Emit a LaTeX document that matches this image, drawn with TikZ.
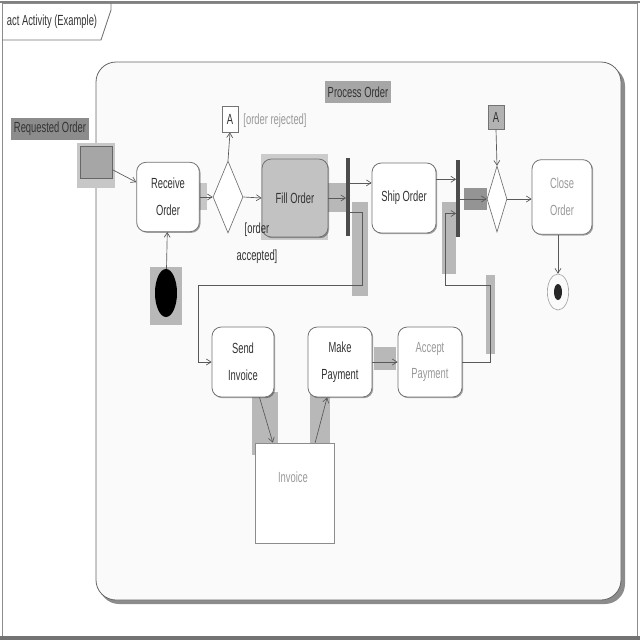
\documentclass[tikz,border=0pt]{standalone}
\usepackage{fontspec}
\setmainfont{Liberation Sans}
\newfontfamily\umlfont[FakeStretch=0.64]{Liberation Sans}
\usetikzlibrary{arrows.meta,shapes.geometric,shadows,calc}

\begin{document}
\begin{tikzpicture}[x=0.75pt,y=-0.75pt,
  every node/.style={font=\umlfont\fontsize{11}{20}\selectfont, text=black!80},
  line/.style={draw=black!65, line width=0.5pt},
  flow/.style={line, -{Straight Barb[length=3.5pt,width=4.5pt]}},
  action/.style={draw=black!55, fill=white, rounded corners=7pt, line width=0.6pt,
    align=center, inner sep=1pt,
    drop shadow={shadow xshift=0.9pt, shadow yshift=-0.9pt, opacity=0.35, fill=black}},
  bar/.style={fill=black!70, draw=none, inner sep=0, minimum width=2.4pt},
  decision/.style={diamond, draw=black!55, fill=white, inner sep=0, line width=0.5pt},
  conn/.style={draw=black!55, fill=white, inner sep=0, line width=0.6pt},
  hl/.style={fill=black!28, draw=none},
  faint/.style={text=black!40},
]
\useasboundingbox (0,0) rectangle (640,640);

% diagram frame and its name tag
\draw[black!45, line width=0.6pt] (2,3) rectangle (637,637);
\draw[black!50, line width=2pt] (0,2) -- (640,2);
\draw[black!55, line width=2.6pt] (0,638) -- (640,638);
\draw[black!55, line width=0.7pt] (2,40) -- (101,40) -- (111,10) -- (111,3);
\node (tag) at (52,22) {act Activity (Example)};

% activity container with its shadow
\fill[black!45, rounded corners=15pt] (99,66) rectangle (625,604);
\draw[black!60, fill=black!2, line width=0.6pt, rounded corners=15pt] (96,62) rectangle (621,600);
\node[fill=black!35, inner sep=2pt, minimum width=50pt, minimum height=17pt] (pname) at (358,92) {Process Order};

% shaded selection patches
\fill[black!22] (77,143) rectangle (115,188);
\fill[hl] (150,267) rectangle (182,325);
\fill[hl] (352,202) rectangle (368,296);
\fill[hl] (442,202) rectangle (456,274);
\fill[hl] (486,275) rectangle (495,354);
\fill[black!42] (464,188) rectangle (487,210);
\fill[hl] (374,347) rectangle (396,370);
\fill[hl] (252,392) rectangle (278,455);
\fill[hl] (310,390) rectangle (330,450);
\fill[black!20] (261,154) rectangle (328,240);
\fill[hl] (328,183) rectangle (346,212);
\fill[black!22] (198,183) rectangle (207,210);

% parameter node on the activity border
\node[fill=black!45, inner sep=2pt, minimum width=54pt, minimum height=17pt] (plabel) at (50,129) {Requested Order};
\node[draw=black!60, fill=black!35, line width=0.6pt, minimum width=24pt, minimum height=24pt, inner sep=0] (param) at (96,162) {};

% actions
\node[action, minimum width=47pt, minimum height=52pt] (recv) at (168,197) {Receive\\Order};
\node[action, fill=black!24, minimum width=49.5pt, minimum height=58.5pt] (fill) at (295,198) {Fill Order};
\node[action, minimum width=48pt, minimum height=52.5pt] (ship) at (404,198) {Ship Order};
\node[action, minimum width=45pt, minimum height=56pt, faint] (close) at (562,197) {Close\\Order};
\node[action, minimum width=46.5pt, minimum height=52.5pt] (send) at (243,362) {Send\\Invoice};
\node[action, minimum width=48pt, minimum height=52.5pt] (make) at (340,362) {Make\\Payment};
\node[action, minimum width=48pt, minimum height=52.5pt, faint] (accept) at (430,362) {Accept\\Payment};

% object node
\node[draw=black!45, fill=white, line width=0.5pt, minimum width=59pt, minimum height=75pt, inner sep=0] (inv) at (294.5,493) {};
\node[faint] (invtext) at (293,477) {Invoice};

% control nodes
\node[ellipse, fill=black, minimum width=16.5pt, minimum height=36pt, inner sep=0] (init) at (166,293) {};
\node[decision, minimum width=22.5pt, minimum height=54pt] (d1) at (228,197) {};
\node[decision, minimum width=15pt, minimum height=49.5pt] (d2) at (497,199) {};
\node[bar, minimum height=58.5pt] (fork1) at (348,197) {};
\node[bar, minimum height=58pt] (join2) at (458,198.5) {};
\node[conn, minimum width=12pt, minimum height=19.5pt] (a1) at (230,119) {A};
\node[conn, fill=black!30, minimum width=12pt, minimum height=18pt] (a2) at (496,117) {A};
\node[ellipse, draw=black!35, line width=0.5pt, minimum width=16pt, minimum height=27pt, inner sep=0] (final) at (558,292) {};
\fill[black!85] (final.center) ellipse (3pt and 6pt);

% bend points
\coordinate (bA) at (362,285);
\coordinate (bB) at (198,285);
\coordinate (bC) at (490,285);
\coordinate (bD) at (445,285);

% guards
\node[faint] (grej) at (275,121) {[order rejected]};
\node[align=center] (gacc) at (257,243) {[order\\accepted]};

% flows
\draw[flow] (param.-25) -- (recv.155);
\draw[flow] (init) -- (recv);
\draw[flow] (recv.east) -- (d1.west);
\draw[flow] (d1.east) -- (fill.west);
\draw[flow] (d1.north) -- (a1.south);
\draw[flow] (fill.east) -- (fill.east -| fork1.west);
\draw[flow] (fork1.east |- ship.155) -- (ship.155);
\draw[flow] ($(fork1.east)+(0,15)$) -| (bA) -- (bB) |- (send.west);
\draw[flow] (ship.30) -- (ship.30 -| join2.west);
\draw[flow] (accept.east) -| (bC) -- (bD) |- ($(join2.west)+(0,15)$);
\draw[flow] (join2.east |- d2.west) -- (d2.west);
\draw[flow] (a2.south) -- (d2.north);
\draw[flow] (d2.east) -- (close.west |- d2.east);
\draw[flow] (final.north |- close.south) -- (final.north);
\draw[flow] (send.-65) -- ($(inv.north west)+(18,0)$);
\draw[flow] ($(inv.north east)+(-19,0)$) -- (make.-110);
\draw[flow] (make.east) -- (accept.west);
\end{tikzpicture}
\end{document}
